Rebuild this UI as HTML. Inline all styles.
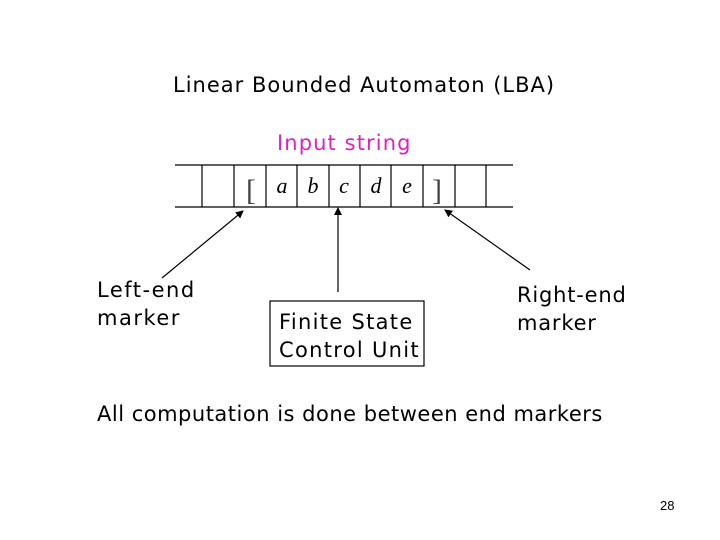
<!DOCTYPE html>
<html><head><style>
body{margin:0;width:720px;height:540px;background:#fff;position:relative;overflow:hidden;font-family:"Comic Sans MS","DejaVu Sans","Liberation Sans",sans-serif;}
.t{position:absolute;white-space:nowrap;color:#000;}
</style></head><body>
<svg width="720" height="540" style="position:absolute;left:0;top:0">
<defs><marker id="a" markerWidth="8" markerHeight="8" refX="7" refY="4" orient="auto" markerUnits="userSpaceOnUse"><path d="M0,0 L8,4 L0,8 z" fill="#000"/></marker></defs>
<g stroke="#000" stroke-width="1.2">
<line x1="175" y1="165" x2="513" y2="165"/>
<line x1="175" y1="207" x2="513" y2="207"/>
<line x1="202" y1="165" x2="202" y2="207"/><line x1="234" y1="165" x2="234" y2="207"/>
<line x1="266" y1="165" x2="266" y2="207"/><line x1="297" y1="165" x2="297" y2="207"/>
<line x1="329" y1="165" x2="329" y2="207"/><line x1="360" y1="165" x2="360" y2="207"/>
<line x1="391" y1="165" x2="391" y2="207"/><line x1="423" y1="165" x2="423" y2="207"/>
<line x1="455" y1="165" x2="455" y2="207"/><line x1="486" y1="165" x2="486" y2="207"/>
<line x1="162" y1="278" x2="243" y2="211" marker-end="url(#a)"/>
<line x1="338" y1="292" x2="338" y2="208" marker-end="url(#a)"/>
<line x1="530" y1="270" x2="445" y2="210" marker-end="url(#a)"/>
<rect x="270" y="301" width="154" height="65" fill="none"/>
</g>
<g font-family="Liberation Serif,serif" font-style="italic" font-size="22" text-anchor="middle">
<text x="251" y="200" font-style="normal" font-size="30" fill="#444">[</text>
<text x="282" y="193">a</text><text x="313" y="193">b</text><text x="344" y="193">c</text>
<text x="376" y="193">d</text><text x="407" y="193">e</text>
<text x="437" y="200" font-style="normal" font-size="30" fill="#444">]</text>
</g>
</svg>
<div class="t" style="left:173px;top:73px;font-size:21px;letter-spacing:1px">Linear Bounded Automaton (LBA)</div>
<div class="t" style="left:277px;top:131px;font-size:21px;color:#e020c0;letter-spacing:1.1px">Input string</div>
<div class="t" style="left:97px;top:276px;font-size:21px;line-height:28px;letter-spacing:1.5px">Left-end<br>marker</div>
<div class="t" style="left:279px;top:308px;font-size:21px;line-height:28px;letter-spacing:1.3px">Finite State<br>Control Unit</div>
<div class="t" style="left:517px;top:281px;font-size:21px;line-height:28px;letter-spacing:0.8px">Right-end<br>marker</div>
<div class="t" style="left:97px;top:402px;font-size:21px;letter-spacing:0.5px">All computation is done between end markers</div>
<div class="t" style="left:660px;top:498px;font-size:13px;font-family:'Liberation Sans',sans-serif">28</div>
</body></html>
